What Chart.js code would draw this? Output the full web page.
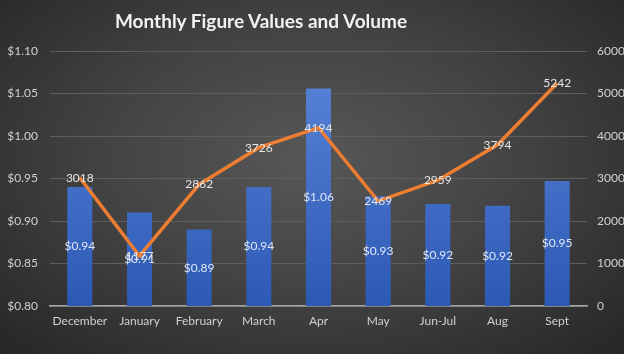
<!DOCTYPE html>
<html>
<head>
<meta charset="utf-8">
<script src="https://cdn.jsdelivr.net/npm/chart.js@4.4.1/dist/chart.umd.min.js"></script>
<style>
    html, body {
        margin: 0;
        padding: 0;
    }
    body {
        width: 624px;
        height: 354px;
        background: radial-gradient(ellipse at 50% 45%, #575757 0%, #444444 45%, #262626 100%);
    }
    #wrap {
        position: relative;
        width: 624px;
        height: 354px;
    }
    #title {
        position: absolute;
        left: 113px;
        top: 9px;
        width: 296px;
        text-align: center;
        font-family: Lato, "Open Sans", sans-serif;
        font-weight: bold;
        font-size: 19px;
        color: #f2f2f2;
        white-space: nowrap;
    }
</style>
</head>
<body>
<div id="wrap">
    <div id="title">Monthly Figure Values and Volume</div>
    <canvas id="comboChart"></canvas>
</div>
<script>
const months = ['December', 'January', 'February', 'March', 'Apr', 'May', 'Jun-Jul', 'Aug', 'Sept'];
const figureValues = [0.94, 0.91, 0.89, 0.94, 1.056, 0.929, 0.92, 0.918, 0.947];
const volumes = [3018, 1177, 2862, 3726, 4194, 2469, 2959, 3794, 5242];

const FONT = 'Lato, "Open Sans", sans-serif';

// draws the value labels on top of each mark
const valueLabels = {
    id: 'valueLabels',
    afterDatasetsDraw(chart) {
        const ctx = chart.ctx;
        const yScale = chart.scales.y;
        ctx.save();
        ctx.font = '12px ' + FONT;
        ctx.textAlign = 'center';
        ctx.textBaseline = 'middle';

        const barMeta = chart.getDatasetMeta(1);
        const basePx = yScale.getPixelForValue(yScale.min);
        barMeta.data.forEach((bar, i) => {
            const top = yScale.getPixelForValue(figureValues[i]);
            ctx.fillStyle = '#dfe7f5';
            ctx.fillText('$' + figureValues[i].toFixed(2), bar.x, (top + basePx) / 2);
        });

        const lineMeta = chart.getDatasetMeta(0);
        lineMeta.data.forEach((pt, i) => {
            ctx.fillStyle = '#e6e6e6';
            ctx.fillText(String(volumes[i]), pt.x, pt.y);
        });
        ctx.restore();
    }
};

function barGradient(context) {
    const area = context.chart.chartArea;
    if (!area) return '#4472c4';
    const g = context.chart.ctx.createLinearGradient(0, area.top, 0, area.bottom);
    g.addColorStop(0, '#5b86d9');
    g.addColorStop(1, '#2c59b5');
    return g;
}

new Chart(document.getElementById('comboChart'), {
    data: {
        labels: months,
        datasets: [
            {
                type: 'line',
                label: 'Volume',
                data: volumes,
                yAxisID: 'y1',
                borderColor: '#ed7d31',
                borderWidth: 3.5,
                pointRadius: 0,
                tension: 0,
                order: 0
            },
            {
                type: 'bar',
                label: 'Value',
                data: figureValues,
                yAxisID: 'y',
                backgroundColor: barGradient,
                barPercentage: 0.42,
                categoryPercentage: 1,
                order: 1
            }
        ]
    },
    options: {
        responsive: true,
        maintainAspectRatio: false,
        animation: false,
        layout: {
            padding: { left: 0, right: 0, top: 51, bottom: 26 }
        },
        plugins: {
            legend: { display: false },
            tooltip: { enabled: false },
            title: { display: false }
        },
        scales: {
            x: {
                grid: { display: false, drawTicks: false },
                border: { color: '#a6a6a6', width: 1.5 },
                ticks: {
                    color: '#d0d0d0',
                    font: { family: FONT, size: 12 },
                    padding: 8,
                    maxRotation: 0
                },
                afterFit(scale) { scale.height = 22; }
            },
            y: {
                position: 'left',
                min: 0.80,
                max: 1.10,
                ticks: {
                    stepSize: 0.05,
                    color: '#d0d0d0',
                    font: { family: FONT, size: 12 },
                    padding: 12,
                    callback: v => '$' + v.toFixed(2)
                },
                grid: { color: '#5e5e5e', lineWidth: 1, drawTicks: false },
                border: { display: false },
                afterFit(scale) { scale.width = 50; }
            },
            y1: {
                position: 'right',
                min: 0,
                max: 6000,
                ticks: {
                    stepSize: 1000,
                    color: '#d0d0d0',
                    font: { family: FONT, size: 12 },
                    padding: 10,
                    callback: v => String(v)
                },
                grid: { display: false, drawTicks: false },
                border: { display: false },
                afterFit(scale) { scale.width = 37; }
            }
        }
    },
    plugins: [valueLabels]
});
</script>
</body>
</html>
